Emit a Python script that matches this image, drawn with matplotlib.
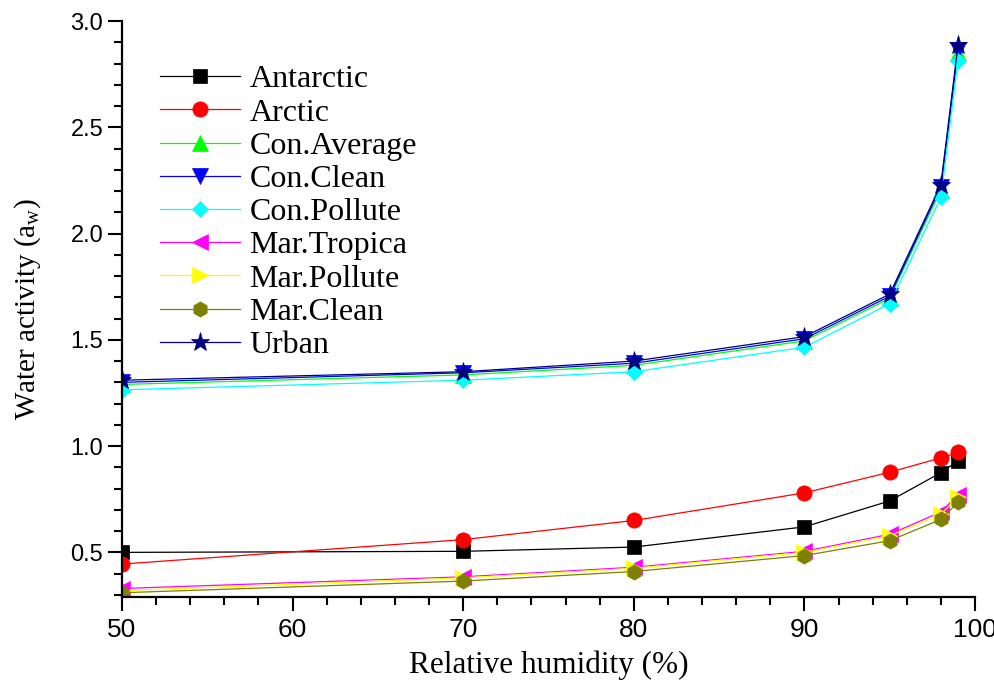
import matplotlib
matplotlib.use('Agg')
import matplotlib.pyplot as plt
from matplotlib import font_manager
from matplotlib.ticker import MultipleLocator

# 数据
rh = [50, 70, 80, 90, 95, 98, 99]
antarctic = [0.50, 0.505, 0.525, 0.62, 0.742, 0.875, 0.93]
arctic = [0.445, 0.56, 0.65, 0.78, 0.877, 0.945, 0.97]
con_average = [1.29, 1.335, 1.38, 1.495, 1.695, 2.205, 2.85]
con_clean = [1.30, 1.345, 1.39, 1.505, 1.705, 2.22, 2.865]
con_pollute = [1.265, 1.31, 1.35, 1.465, 1.67, 2.17, 2.81]
mar_tropica = [0.33, 0.385, 0.43, 0.505, 0.585, 0.69, 0.77]
mar_pollute = [0.32, 0.38, 0.425, 0.50, 0.578, 0.68, 0.76]
mar_clean = [0.31, 0.365, 0.41, 0.485, 0.555, 0.655, 0.735]
urban = [1.31, 1.35, 1.40, 1.515, 1.715, 2.23, 2.885]

series = [
    ('Antarctic', antarctic, 'black', 's', 10),
    ('Arctic', arctic, 'red', 'o', 11),
    ('Con.Average', con_average, '#00ff00', '^', 11),
    ('Con.Clean', con_clean, 'blue', 'v', 11),
    ('Con.Pollute', con_pollute, 'cyan', 'D', 8.5),
    ('Mar.Tropica', mar_tropica, 'magenta', '<', 11),
    ('Mar.Pollute', mar_pollute, 'yellow', '>', 11),
    ('Mar.Clean', mar_clean, '#808000', 'h', 11),
    ('Urban', urban, '#000080', '*', 14),
]

names = {f.name for f in font_manager.fontManager.ttflist}
narrow = 'Liberation Sans Narrow' if 'Liberation Sans Narrow' in names else 'Liberation Sans'
xtick_size = 25 if narrow == 'Liberation Sans Narrow' else 19
serif = ['Liberation Serif', 'DejaVu Serif']

fig = plt.figure(figsize=(9.95, 6.83), dpi=100)
ax = fig.add_axes([0.1226, 0.1259, 0.8573, 0.8433])

for name, vals, col, mk, ms in series:
    ax.plot(rh, vals, color=col, linewidth=0.9, marker=mk, markersize=ms,
            markerfacecolor=col, markeredgecolor=col, markeredgewidth=0.5,
            label=name)

ax.set_xlim(50, 100)
ax.set_ylim(0.29, 3.0)
ax.xaxis.set_major_locator(MultipleLocator(10))
ax.xaxis.set_minor_locator(MultipleLocator(2))
ax.yaxis.set_major_locator(MultipleLocator(0.5))
ax.yaxis.set_minor_locator(MultipleLocator(0.1))

for s in ['top', 'right']:
    ax.spines[s].set_visible(False)
for s in ['left', 'bottom']:
    ax.spines[s].set_linewidth(1.6)

ax.tick_params(which='major', direction='out', length=10, width=1.5)
ax.tick_params(which='minor', direction='out', length=5.5, width=1.5)
ax.tick_params(axis='x', which='major', pad=5)

for lab in ax.get_xticklabels():
    lab.set_fontfamily(narrow)
    lab.set_fontsize(xtick_size)
for lab in ax.get_yticklabels():
    lab.set_fontfamily('Liberation Sans')
    lab.set_fontsize(17)

ax.set_xlabel('Relative humidity (%)', family=serif, fontsize=22.5, labelpad=6)
ax.set_ylabel('Water activity (a$_\\mathregular{w}$)', family=serif, fontsize=21, labelpad=20)

ax.legend(loc='upper left', bbox_to_anchor=(160 / 995, 1 - 65 / 683),
          bbox_transform=fig.transFigure, frameon=False, borderpad=0,
          borderaxespad=0, handlelength=2.5, handletextpad=0.3,
          labelspacing=0.12, prop={'family': serif, 'size': 23})

fig.savefig('out.png', dpi=100)
